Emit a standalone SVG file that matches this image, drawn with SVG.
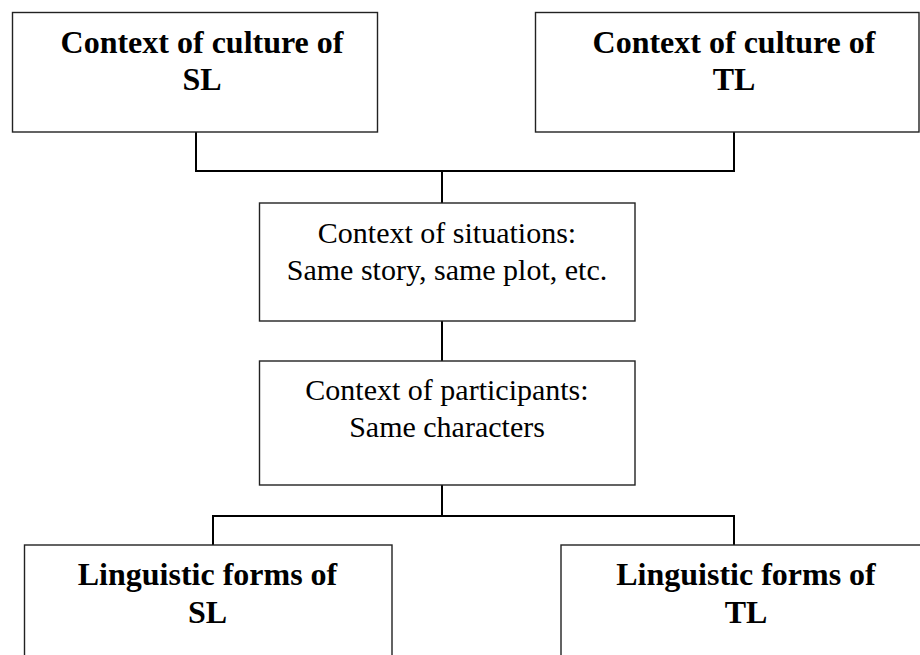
<svg xmlns="http://www.w3.org/2000/svg" width="920" height="655" viewBox="0 0 920 655">
<style>
.box{fill:#fff;stroke:#222;stroke-width:1.4}
.con{fill:none;stroke:#000;stroke-width:2}
.b{font-family:"Liberation Serif","Times New Roman",serif;font-weight:bold;font-size:32px;fill:#000;text-anchor:middle}
.r{font-family:"Liberation Serif","Times New Roman",serif;font-size:30px;fill:#000;text-anchor:middle}
</style>
<rect width="920" height="655" fill="#fff"/>
<g id="connectors">
<path class="con" d="M196 132V171H734V132"/>
<path class="con" d="M442 171V203"/>
<path class="con" d="M442 321V361"/>
<path class="con" d="M442 485V516"/>
<path class="con" d="M213 545V516H734V545"/>
</g>
<g id="culture-sl">
<rect class="box" x="12.5" y="12.5" width="365" height="119.5"/>
<text class="b" x="202" y="53">Context of culture of</text>
<text class="b" x="202" y="90">SL</text>
</g>
<g id="culture-tl">
<rect class="box" x="535.5" y="12.5" width="383.5" height="119.5"/>
<text class="b" x="734" y="53">Context of culture of</text>
<text class="b" x="734" y="90">TL</text>
</g>
<g id="situations">
<rect class="box" x="259.5" y="203" width="375.5" height="118"/>
<text class="r" x="447" y="243">Context of situations:</text>
<text class="r" x="447" y="280">Same story, same plot, etc.</text>
</g>
<g id="participants">
<rect class="box" x="259.5" y="361" width="375.5" height="124"/>
<text class="r" x="447" y="400">Context of participants:</text>
<text class="r" x="447" y="437">Same characters</text>
</g>
<g id="forms-sl">
<rect class="box" x="24.5" y="545" width="367.5" height="140"/>
<text class="b" x="207.5" y="585">Linguistic forms of</text>
<text class="b" x="207.5" y="623">SL</text>
</g>
<g id="forms-tl">
<rect class="box" x="561" y="545" width="400" height="140"/>
<text class="b" x="746" y="585">Linguistic forms of</text>
<text class="b" x="746" y="623">TL</text>
</g>
</svg>
